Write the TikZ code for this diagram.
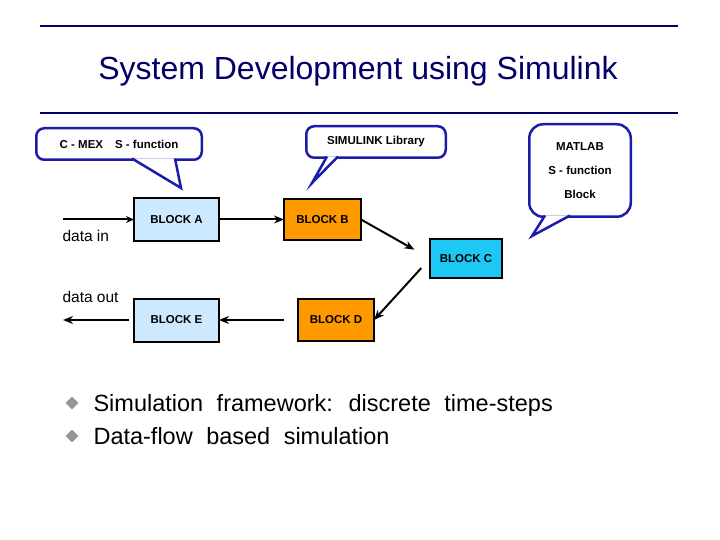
\documentclass[tikz,border=0pt]{standalone}
\usepackage{fontspec}
\setmainfont{Liberation Sans}
\usetikzlibrary{positioning,arrows.meta,calc,shapes.geometric}
\definecolor{navy}{RGB}{0,0,102}
\definecolor{callblue}{RGB}{28,28,170}
\definecolor{paleblue}{RGB}{204,233,255}
\definecolor{blockorange}{RGB}{255,153,0}
\definecolor{blockcyan}{RGB}{30,200,245}
\definecolor{bulletgray}{RGB}{150,150,150}
\newcommand\widegaps{\spaceskip=13.5pt\relax}

\begin{document}
\begin{tikzpicture}[x=1pt, y=-1pt, >={Stealth[length=10pt,width=8pt]},
    block/.style={draw=black, line width=2pt, inner sep=0pt, outer sep=0pt,
      font=\fontsize{11.5}{13}\selectfont\bfseries},
    bubble/.style={draw=callblue, line width=2.5pt, fill=white, rounded corners=8pt,
      inner sep=0pt, outer sep=0pt, font=\fontsize{11.5}{13}\selectfont\bfseries},
    pointer/.style={draw=callblue, line width=2.5pt, fill=white, line join=miter},
    flow/.style={->, line width=2pt},
    bullet/.style={diamond, fill=bulletgray, inner sep=0pt, minimum size=13pt},
    point/.style={anchor=base west, font=\fontsize{23.5}{28}\selectfont\widegaps}]
  \useasboundingbox (0,0) rectangle (720,540);

  % title between the two rules
  \draw [navy, line width=2pt] (40,26) -- (678,26);
  \node (title) [navy, font=\fontsize{32}{36}\selectfont] at (358,71) {System Development using Simulink};
  \draw [navy, line width=2pt] (40,113) -- (678,113);

  % callouts
  \node (cmex) [bubble, minimum width=165.5pt, minimum height=31.5pt] at (119,144) {C - MEX\hspace{12pt}S - function};
  \filldraw [pointer] (132,158.5) -- (181,188) -- (175,158.5);
  \node (library) [bubble, minimum width=139.5pt, minimum height=31.5pt] at (376,142) {SIMULINK Library};
  \filldraw [pointer] (327,156.5) -- (312,183) -- (338,156.5);
  \node (matlab) [bubble, rounded corners=14pt, minimum width=101.5pt, minimum height=92.5pt, align=center,
    font=\fontsize{11.5}{24}\selectfont\bfseries] at (580,170.5) {MATLAB\\S - function\\Block};
  \filldraw [pointer] (545,215.5) -- (532,236) -- (570,215.5);

  % blocks
  \node (blockA) [block, fill=paleblue, minimum width=85pt, minimum height=43pt] at (176.5,219.5) {BLOCK A};
  \node (blockB) [block, fill=blockorange, minimum width=77pt, minimum height=40pt] at (322.5,219.5) {BLOCK B};
  \node (blockC) [block, fill=blockcyan, minimum width=72pt, minimum height=39pt] at (466,258.5) {BLOCK C};
  \node (blockD) [block, fill=blockorange, minimum width=76pt, minimum height=42pt] at (336,320) {BLOCK D};
  \node (blockE) [block, fill=paleblue, minimum width=85pt, minimum height=43pt] at (176.5,320) {BLOCK E};

  \coordinate (in) at (63,219.5);
  \coordinate (out) at (63,320);
  \node (datain) [anchor=west, font=\fontsize{15.5}{18}\selectfont] at (59,236) {data in};
  \node (dataout) [anchor=west, font=\fontsize{15.5}{18}\selectfont] at (59,297) {data out};

  \path [flow] (in) edge [>={Stealth[length=8pt,width=7pt]}] (blockA)
    (blockA) edge (blockB)
    (blockB.east) edge [shorten >=18pt] (blockC.west)
    (blockC.west) edge [shorten <=13pt] (blockD.east)
    (blockD) edge [shorten <=14pt] (blockE)
    (blockE) edge [shorten <=5pt] (out);

  % bullet points
  \node (dotA) [bullet] at (72,403) {};
  \node (pointA) [point] at (90,411) {Simulation framework: discrete time-steps};
  \node (dotB) [bullet] at (72,436) {};
  \node (pointB) [point] at (90,444) {Data-flow based simulation};
\end{tikzpicture}
\end{document}
